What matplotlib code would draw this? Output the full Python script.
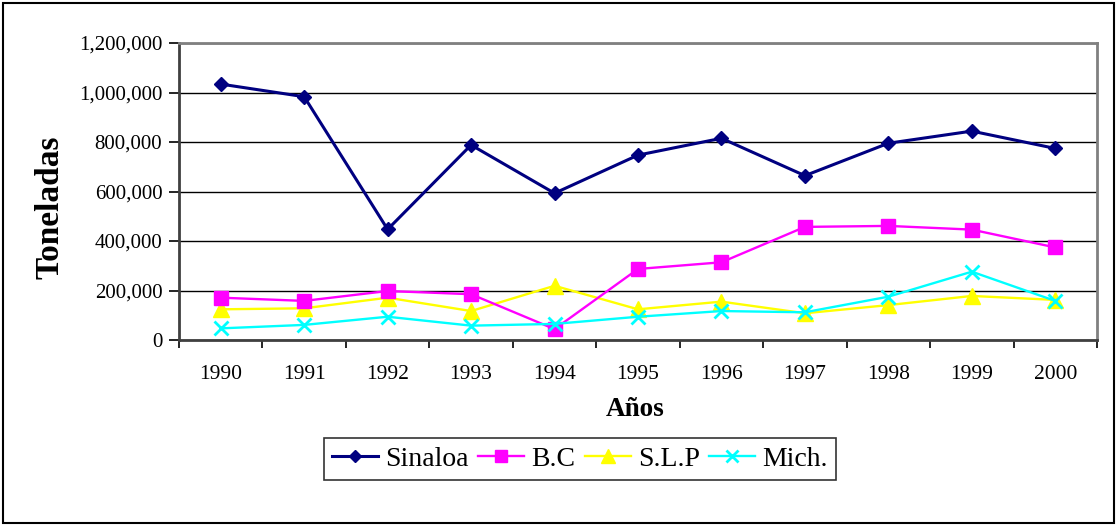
import matplotlib
matplotlib.use("Agg")
import matplotlib.pyplot as plt
from matplotlib.patches import Rectangle
from matplotlib.ticker import FuncFormatter, MultipleLocator, FixedLocator

years = ["1990", "1991", "1992", "1993", "1994", "1995", "1996", "1997", "1998", "1999", "2000"]
sinaloa = [1034000, 983000, 447000, 788000, 593000, 747000, 815000, 664000, 795000, 844000, 774000]
bc = [171000, 158000, 198000, 185000, 44000, 287000, 314000, 457000, 461000, 446000, 374000]
slp = [124000, 128000, 171000, 117000, 219000, 124000, 155000, 108000, 141000, 178000, 162000]
mich = [47000, 61000, 94000, 58000, 65000, 94000, 117000, 112000, 175000, 276000, 158000]

series_names = ["Sinaloa", "B.C", "S.L.P", "Mich."]

plt.rcParams['font.family'] = ['Liberation Serif', 'DejaVu Serif']

W, H = 1116, 525
fig = plt.figure(figsize=(W / 100, H / 100), dpi=100)
fig.patch.set_facecolor("white")

# outer border
fig.add_artist(Rectangle((3 / W, 1 - 523 / H), (1114 - 3) / W, (523 - 3) / H,
                         transform=fig.transFigure, fill=False, edgecolor="black", linewidth=1.5))

ax = fig.add_axes([179 / W, 1 - 340 / H, (1097 - 179) / W, (340 - 43) / H])
x = list(range(len(years)))

ax.plot(x, sinaloa, color="#000080", linewidth=2.2, marker="D", markersize=7.5, label=series_names[0], zorder=5)
ax.plot(x, bc, color="#FF00FF", linewidth=1.7, marker="s", markersize=10, label=series_names[1], zorder=4)
ax.plot(x, slp, color="#FFFF00", linewidth=1.7, marker="^", markersize=12, label=series_names[2], zorder=3)
ax.plot(x, mich, color="#00FFFF", linewidth=1.7, marker="x", markersize=10, markeredgewidth=2, label=series_names[3], zorder=6)

ax.set_xlim(-0.5, len(years) - 0.5)
ax.set_ylim(0, 1200000)
ax.yaxis.set_major_locator(MultipleLocator(200000))
ax.yaxis.set_major_formatter(FuncFormatter(lambda v, p: f"{int(v):,}"))
ax.grid(axis="y", color="black", linewidth=1)
ax.set_axisbelow(True)

# category labels centred, ticks at boundaries
ax.xaxis.set_major_locator(FixedLocator([i - 0.5 for i in range(len(years) + 1)]))
ax.xaxis.set_major_formatter(FuncFormatter(lambda v, p: ""))
ax.xaxis.set_minor_locator(FixedLocator(x))
ax.set_xticklabels(years, minor=True)
ax.tick_params(axis="x", which="minor", length=0, labelsize=15.5, pad=18)
ax.tick_params(axis="x", which="major", length=6, width=1.2, direction="out", color="black")
ax.tick_params(axis="y", length=7, width=1.2, direction="out", labelsize=15, pad=5)

for side in ["top", "right"]:
    ax.spines[side].set_color("#808080")
    ax.spines[side].set_linewidth(2)
ax.spines["left"].set_color("#404040")
ax.spines["left"].set_linewidth(2)
ax.spines["bottom"].set_color("#404040")
ax.spines["bottom"].set_linewidth(2)

fig.text(50 / W, 1 - 207 / H, "Toneladas", rotation=90, fontsize=24, fontweight="bold",
         ha="center", va="center")
fig.text(635 / W, 1 - 409 / H, "Años", fontsize=19.5, fontweight="bold", ha="center", va="center")

leg = fig.legend(loc="center", bbox_to_anchor=(580 / W, 1 - 459 / H), ncol=4, fontsize=20,
                 frameon=True, fancybox=False, edgecolor="black", handlelength=1.65,
                 columnspacing=0.35, handletextpad=0.25, borderpad=0.3, borderaxespad=0)
leg.get_frame().set_linewidth(1.2)
for h in leg.legend_handles:
    h.set_markersize(h.get_markersize() * 0.85)

fig.savefig("out.png", dpi=100)
